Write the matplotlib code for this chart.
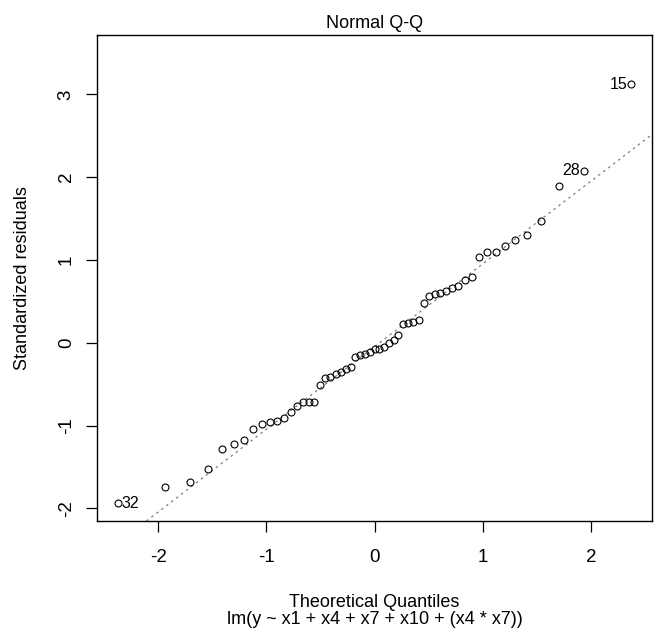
import numpy as np
import matplotlib.pyplot as plt
from statistics import NormalDist

plt.rcParams['font.family'] = ['Liberation Sans', 'DejaVu Sans']

# standardized residuals, sorted (57 observations)
std_resid = [-1.935, -1.745, -1.685, -1.52, -1.28, -1.22, -1.17, -1.04, -0.98, -0.96,
             -0.95, -0.91, -0.84, -0.76, -0.72, -0.71, -0.71, -0.505, -0.43, -0.41,
             -0.38, -0.35, -0.32, -0.29, -0.17, -0.15, -0.13, -0.11, -0.076, -0.076,
             -0.05, -0.008, 0.03, 0.09, 0.23, 0.235, 0.25, 0.28, 0.485, 0.566,
             0.585, 0.606, 0.627, 0.658, 0.687, 0.76, 0.79, 1.03, 1.095, 1.10,
             1.17, 1.24, 1.305, 1.475, 1.895, 2.08, 3.12]

# observations flagged as extreme: (rank in sorted order, observation number)
extreme_rank = [0, 55, 56]
extreme_obs = ['32', '28', '15']

model_txt = 'lm(y ~ x1 + x4 + x7 + x10 + (x4 * x7))'

# theoretical quantiles like R's qnorm(ppoints(n))
y = np.array(std_resid)
n = len(y)
nd = NormalDist()
p = (np.arange(1, n + 1) - 0.5) / n
x = np.array([nd.inv_cdf(v) for v in p])

# qqline through the quartiles
q_y = np.quantile(y, [0.25, 0.75])
q_x = np.array([nd.inv_cdf(0.25), nd.inv_cdf(0.75)])
slope = (q_y[1] - q_y[0]) / (q_x[1] - q_x[0])
icpt = q_y[0] - slope * q_x[0]

fig = plt.figure(figsize=(6.56, 6.42), dpi=100)
ax = fig.add_axes([97 / 656, 121 / 642, 555 / 656, 486 / 642])

ax.axline((0, icpt), slope=slope, color='#7f7f7f', lw=0.9, linestyle=(0, (2, 3)), zorder=1)
ax.plot(x, y, 'o', mfc='none', mec='black', ms=5, mew=0.8, zorder=2)

for r, lab in zip(extreme_rank, extreme_obs):
    if x[r] < 0:
        ax.annotate(lab, (x[r], y[r]), xytext=(3, 0), textcoords='offset points',
                    ha='left', va='center', fontsize=11.5)
    else:
        ax.annotate(lab, (x[r], y[r]), xytext=(-3, 0), textcoords='offset points',
                    ha='right', va='center', fontsize=11.5)

# R style limits: extra room on top for labels, then 4% padding
xr = x.max() - x.min()
ax.set_xlim(x.min() - 0.04 * xr, x.max() + 0.04 * xr)
ylo, yhi = y.min(), y.max() + 0.075 * (y.max() - y.min())
yr = yhi - ylo
ax.set_ylim(ylo - 0.04 * yr, yhi + 0.04 * yr)

ax.set_xticks([-2, -1, 0, 1, 2])
ax.set_yticks([-2, -1, 0, 1, 2, 3])
ax.set_xticklabels(['-2', '-1', '0', '1', '2'])
ax.set_yticklabels(['-2', '-1', '0', '1', '2', '3'], rotation=90, va='center')
ax.tick_params(direction='out', length=8, width=0.9, labelsize=13.5)
ax.tick_params(axis='x', pad=12)
ax.tick_params(axis='y', pad=8)
for s in ax.spines.values():
    s.set_linewidth(1.0)

ax.set_title('Normal Q-Q', fontsize=13, pad=5)
ax.set_xlabel('Theoretical Quantiles', fontsize=13, labelpad=20)
ax.set_ylabel('Standardized residuals', fontsize=13, labelpad=19)
fig.text(375 / 656, 1 - 619 / 642, model_txt, ha='center', va='center', fontsize=13)

fig.savefig('out.png', dpi=100)
